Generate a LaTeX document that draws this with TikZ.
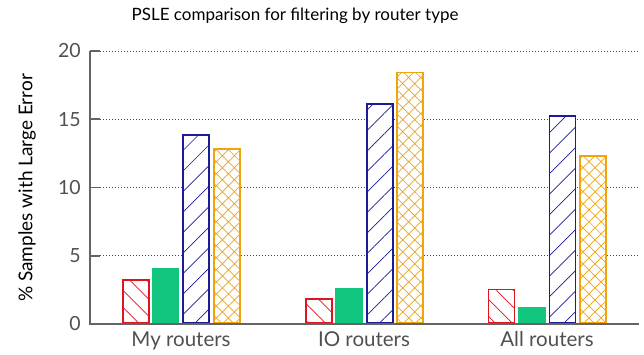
\documentclass[tikz,border=0pt]{standalone}
\usepackage{fontspec}
\setmainfont{Lato}
\usetikzlibrary{patterns.meta}
\definecolor{cred}{RGB}{222,20,30}
\definecolor{cgreen}{RGB}{18,198,128}
\definecolor{cblue}{RGB}{28,28,150}
\definecolor{corange}{RGB}{240,165,15}
\definecolor{caxis}{RGB}{100,100,100}
\definecolor{ctext}{RGB}{80,80,80}
\newcommand\mybar[3]{\path[#3] ({#1+1},323) rectangle ({#1+27},{324-#2*13.65+1});}
\begin{document}
\begin{tikzpicture}[x=1pt,y=-1pt,
  axisline/.style={draw=caxis,line width=1.6pt},
  gridline/.style={draw=black!70,line width=0.8pt,dash pattern=on 1.2pt off 1.8pt},
  ticklab/.style={anchor=east,text=ctext,font=\fontsize{19.5}{22}\selectfont,inner sep=0pt},
  catlab/.style={anchor=base,text=ctext,font=\fontsize{20.5}{23}\selectfont,inner sep=0pt},
  redbar/.style={draw=cred,line width=1.8pt,fill=white,postaction={pattern={Lines[angle=-45,distance=12pt,line width=0.7pt]},pattern color=cred}},
  greenbar/.style={draw=cgreen,line width=1.2pt,fill=cgreen},
  bluebar/.style={draw=cblue,line width=1.8pt,fill=white,postaction={pattern={Lines[angle=45,distance=14.5pt,line width=0.7pt]},pattern color=cblue}},
  orangebar/.style={draw=corange,line width=1.8pt,fill=white,postaction={pattern={Hatch[angle=45,distance=8.5pt,line width=0.7pt]},pattern color=corange}},
]
\useasboundingbox (0,0) rectangle (644,354);
% grid
\foreach \v in {5,10,15,20}{
  \draw[gridline] (100,{324-\v*13.65}) -- (639,{324-\v*13.65});
  \draw[axisline] (90,{324-\v*13.65}) -- (100,{324-\v*13.65});
}
% tick labels
\foreach \v/\n in {0/t0,5/t5,10/t10,15/t15,20/t20}{
  \node[ticklab] (\n) at (81,{324-\v*13.65}) {\v};
}
% bars
\mybar{121.7}{3.3}{redbar}
\mybar{151.7}{4.1}{greenbar}
\mybar{182.3}{13.9}{bluebar}
\mybar{212.7}{12.9}{orangebar}
\mybar{304.7}{1.9}{redbar}
\mybar{335}{2.7}{greenbar}
\mybar{365.7}{16.2}{bluebar}
\mybar{396}{18.5}{orangebar}
\mybar{487.5}{2.6}{redbar}
\mybar{518}{1.3}{greenbar}
\mybar{548.5}{15.3}{bluebar}
\mybar{579}{12.4}{orangebar}
% axes
\draw[axisline] (90,51) -- (90,324) -- (639,324);
\draw[axisline] (90,{324-20*13.65}) -- (100,{324-20*13.65});
% category labels
\node[catlab] (c1) at (181,346) {My routers};
\node[catlab] (c2) at (364,346) {IO routers};
\node[catlab] (c3) at (547,346) {All routers};
% axis label
\node[rotate=90,font=\fontsize{19}{22}\selectfont,inner sep=0pt] (ylab) at (27,188) {\% Samples with Large Error};
% title
\node[font=\fontsize{17}{20}\selectfont,inner sep=0pt] (title) at (295,16) {PSLE comparison for filtering by router type};
\end{tikzpicture}
\end{document}
